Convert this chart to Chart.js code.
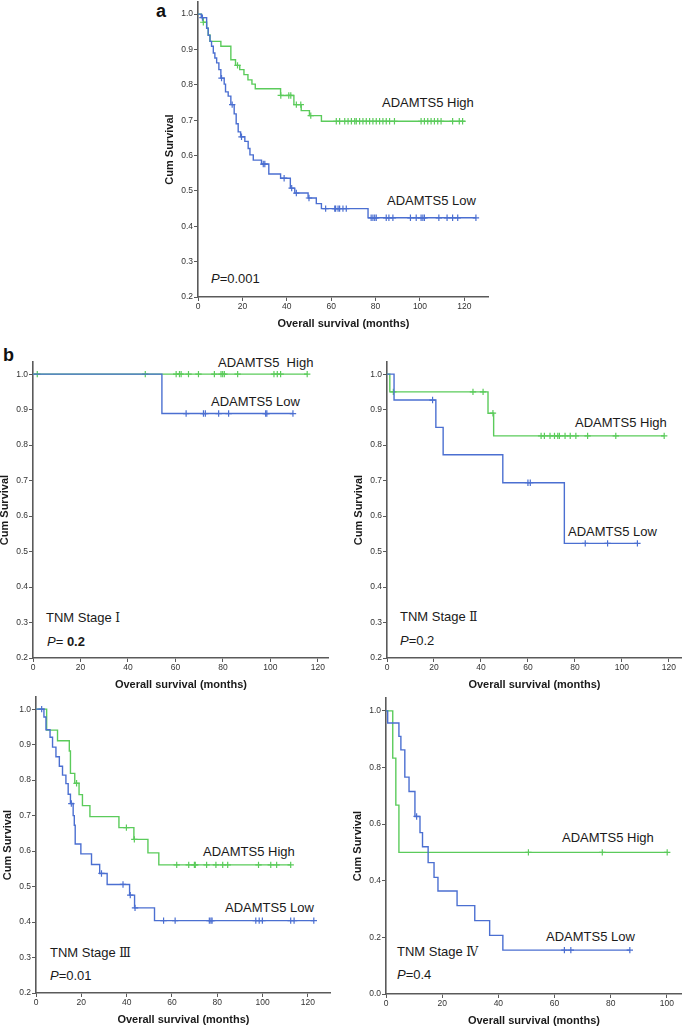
<!DOCTYPE html>
<html>
<head>
<meta charset="utf-8">
<script src="https://cdn.jsdelivr.net/npm/chart.js@4.4.0/dist/chart.umd.min.js"></script>
<style>
  body { margin: 0; width: 685px; height: 1028px; overflow: hidden; background: #fff; position: relative;
         font-family: "Liberation Sans", Arial, sans-serif; }
  canvas { position: absolute; }
  .lbl { position: absolute; font-size: 13px; line-height: 13px; color: #1a1a1a; white-space: pre; }
  .tag { position: absolute; font-size: 18px; line-height: 18px; font-weight: bold; color: #111; }
  .rn { font-family: "DejaVu Serif", "Liberation Serif", serif; font-size: 12px; }
</style>
</head>
<body>

<div class="tag" style="left:156px; top:2px;">a</div>
<div class="tag" style="left:3px; top:346px;">b</div>

<!-- panel a -->
<div class="lbl" style="left:382px; top:96px;">ADAMTS5 High</div>
<div class="lbl" style="left:387px; top:194px;">ADAMTS5 Low</div>
<div class="lbl" style="left:211px; top:272px;"><i>P</i>=0.001</div>

<!-- panel b, stage I -->
<div class="lbl" style="left:218px; top:356px;">ADAMTS5  High</div>
<div class="lbl" style="left:211px; top:395px;">ADAMTS5 Low</div>
<div class="lbl" style="left:46px; top:611px;">TNM Stage <span class="rn">Ⅰ</span></div>
<div class="lbl" style="left:47px; top:635px;"><i>P</i>= <b>0.2</b></div>

<!-- panel b, stage II -->
<div class="lbl" style="left:575px; top:416px;">ADAMTS5 High</div>
<div class="lbl" style="left:568px; top:525px;">ADAMTS5 Low</div>
<div class="lbl" style="left:400px; top:610px;">TNM Stage <span class="rn">Ⅱ</span></div>
<div class="lbl" style="left:400px; top:634px;"><i>P</i>=0.2</div>

<!-- panel b, stage III -->
<div class="lbl" style="left:203px; top:845px;">ADAMTS5 High</div>
<div class="lbl" style="left:225px; top:901px;">ADAMTS5 Low</div>
<div class="lbl" style="left:50px; top:946px;">TNM Stage <span class="rn">Ⅲ</span></div>
<div class="lbl" style="left:50px; top:969px;"><i>P</i>=0.01</div>

<!-- panel b, stage IV -->
<div class="lbl" style="left:562px; top:831px;">ADAMTS5 High</div>
<div class="lbl" style="left:546px; top:930px;">ADAMTS5 Low</div>
<div class="lbl" style="left:397px; top:945px;">TNM Stage <span class="rn">Ⅳ</span></div>
<div class="lbl" style="left:397px; top:968px;"><i>P</i>=0.4</div>

<script>
// ---- data (months / cumulative survival) ----
// every curve: event times with the survival value after that event, last entry = end of follow-up

// a: all patients
const aHighTime = [0, 1.6, 2.4, 3.9, 4.6, 5.4, 10.3, 14.8, 16.9, 18.8, 20.7, 22.5, 24.3, 25.8, 37.2, 43.2, 46.5, 50.2, 55.6, 120.4];
const aHighSurv = [1, 0.99, 0.977, 0.96, 0.941, 0.923, 0.909, 0.871, 0.855, 0.843, 0.829, 0.814, 0.802, 0.789, 0.77, 0.744, 0.727, 0.713, 0.697, 0.697];
const aHighCens = [2.4, 17.8, 37.3, 40.9, 41.8, 44.3, 46.3, 50.8, 62.3, 63.8, 66.1, 67.6, 69.1, 70.6, 71.3, 72.8, 74.3,
  75.8, 77.3, 78.8, 80.3, 81.8, 83.3, 84.8, 86.3, 88.5, 100.5, 102, 103.5, 105, 106.5, 108, 109.5, 114.7, 117.7, 119.2];

const aLowTime = [0, 1.5, 3.9, 4.6, 5.4, 6.1, 6.9, 7.6, 8.4, 9.4, 10.3, 11.8, 12.4, 13.6, 14.8, 16.3, 17.2, 18.1, 19.2,
  21.1, 22.6, 23.4, 24.9, 28.6, 31.9, 37.2, 41.6, 43.6, 49.6, 53.3, 55.6, 76.6, 125.2];
const aLowSurv = [1, 0.99, 0.96, 0.94, 0.923, 0.909, 0.89, 0.876, 0.862, 0.843, 0.819, 0.802, 0.78, 0.768, 0.744, 0.718,
  0.69, 0.667, 0.653, 0.64, 0.62, 0.602, 0.587, 0.576, 0.548, 0.536, 0.508, 0.494, 0.48, 0.464, 0.45, 0.424, 0.424];
const aLowCens = [2.0, 10.6, 15.4, 19.6, 29.4, 30.1, 38.8, 42.2, 44.3, 50.0, 57.5, 61.6, 62.0, 63.1, 63.8, 65.3, 66.8,
  78.0, 78.8, 79.6, 80.3, 84.8, 86.0, 87.8, 95.7, 98.3, 100.5, 101.3, 102.0, 108.5, 112.2, 114.7, 117.0, 125.2];

// b: TNM stage I
const s1HighTime = [0, 115.5];
const s1HighSurv = [1, 1];
const s1HighCens = [1.8, 47.3, 60.3, 61.7, 62.4, 65.5, 69.7, 76.4, 79.2, 79.9, 80.6, 86.2, 101.5, 102.9, 104.3, 115.5];
const s1LowTime = [0, 54.3, 109.5];
const s1LowSurv = [1, 0.889, 0.889];
const s1LowCens = [64.5, 71.8, 72.6, 78.2, 82.4, 98.0, 98.5, 109.5];

// b: TNM stage II
const s2HighTime = [0, 1.2, 43.0, 45.4, 118.0];
const s2HighSurv = [1, 0.95, 0.89, 0.826, 0.826];
const s2HighCens = [2.7, 36.6, 40.9, 45.1, 65.6, 67.0, 69.4, 71.3, 72.7, 73.4, 75.8, 78.0, 80.4, 85.4, 97.4, 118.0];
const s2LowTime = [0, 3.0, 20.8, 23.9, 49.3, 75.5, 106.6];
const s2LowSurv = [1, 0.927, 0.85, 0.773, 0.694, 0.523, 0.523];
const s2LowCens = [19.4, 60.0, 61.0, 84.4, 93.9, 106.6];

// b: TNM stage III
const s3HighTime = [0, 4.7, 9.5, 14.7, 15.2, 17.1, 19.0, 20.5, 23.8, 36.6, 43.2, 49.4, 54.2, 112.4];
const s3HighSurv = [1, 0.941, 0.911, 0.882, 0.819, 0.791, 0.759, 0.728, 0.697, 0.666, 0.633, 0.595, 0.561, 0.561];
const s3HighCens = [17.9, 39.9, 43.4, 62.1, 67.4, 69.9, 70.3, 75.3, 79.4, 82.4, 84.6, 98.2, 103.6, 106.2, 112.4];
const s3LowTime = [0, 3.5, 4.4, 6.2, 7.3, 8.8, 10.3, 11.7, 13.2, 14.2, 15.2, 16.4, 16.9, 17.3, 19.8, 24.5, 28.1, 31.4,
  41.3, 43.5, 52.3, 122.6];
const s3LowSurv = [1, 0.978, 0.942, 0.921, 0.893, 0.866, 0.839, 0.814, 0.79, 0.76, 0.734, 0.70, 0.673, 0.62, 0.592,
  0.562, 0.537, 0.506, 0.476, 0.44, 0.404, 0.404];
const s3LowCens = [2.5, 15.6, 28.9, 38.4, 41.6, 43.7, 56.3, 61.4, 76.5, 77.2, 77.7, 97.0, 98.5, 99.9, 112.4, 113.9, 122.6];

// b: TNM stage IV
const s4HighTime = [0, 2.4, 3.5, 4.6, 100.1];
const s4HighSurv = [1, 0.833, 0.667, 0.5, 0.5];
const s4HighCens = [50.7, 77.0, 100.1];
const s4LowTime = [0, 0.6, 4.6, 5.3, 6.7, 8.2, 10.3, 12.1, 13.0, 15.0, 17.1, 18.5, 25.3, 31.6, 36.9, 41.6, 86.8];
const s4LowSurv = [1, 0.957, 0.91, 0.862, 0.766, 0.715, 0.627, 0.57, 0.52, 0.464, 0.412, 0.364, 0.312, 0.259, 0.207,
  0.155, 0.155];
const s4LowCens = [10.9, 63.5, 65.8, 86.8];

// tick labels
const xTicksMain = [0, 20, 40, 60, 80, 100, 120];
const xTicksStage4 = [0, 20, 40, 60, 80, 100];
const yTicksMain = [0.2, 0.3, 0.4, 0.5, 0.6, 0.7, 0.8, 0.9, 1.0];
const yTicksStage4 = [0, 0.2, 0.4, 0.6, 0.8, 1.0];

const GREEN = "#5bcb5b";
const BLUE = "#4b6fd1";
const AXIS = "#5a5a5a";
const FONT = "'Liberation Sans', Arial, sans-serif";

// fixed room around the plot area of every canvas
const YW = 40, XH = 40, PT = 6, PR = 4;

function stepPoints(time, surv) {
  return time.map((t, i) => ({ x: t, y: surv[i] }));
}

// survival value of the curve at time t (for the censor crosses)
function survAt(time, surv, t) {
  let s = surv[0];
  for (let i = 0; i < time.length; i++) {
    if (time[i] <= t) s = surv[i];
  }
  return s;
}

function drawPanel(p) {
  const c = document.createElement("canvas");
  const w = p.R - p.L + YW + PR;
  const h = p.B - p.T + PT + XH;
  c.width = w;
  c.height = h;
  c.style.left = (p.L - YW) + "px";
  c.style.top = (p.T - PT) + "px";
  document.body.appendChild(c);

  const datasets = [];
  p.groups.forEach((g) => {
    datasets.push({
      data: stepPoints(g.time, g.surv),
      showLine: true,
      stepped: true,
      borderColor: g.color,
      borderWidth: 1.4,
      pointRadius: 0,
      fill: false,
    });
    datasets.push({
      data: g.cens.map((t) => ({ x: t, y: survAt(g.time, g.surv, t) })),
      showLine: false,
      pointStyle: "cross",
      pointRadius: 3.2,
      borderColor: g.color,
      borderWidth: 1.2,
    });
  });

  new Chart(c, {
    type: "scatter",
    data: { datasets: datasets },
    options: {
      responsive: false,
      animation: false,
      events: [],
      layout: { padding: { top: PT, right: PR, left: 0, bottom: 0 } },
      plugins: { legend: { display: false }, tooltip: { enabled: false } },
      scales: {
        x: {
          type: "linear",
          min: 0,
          max: p.xMax,
          afterBuildTicks: (s) => { s.ticks = p.xTicks.map((v) => ({ value: v })); },
          afterFit: (s) => { s.height = XH; },
          ticks: { font: { size: 8.5, family: FONT }, color: "#333", padding: 1, maxRotation: 0, autoSkip: false },
          grid: { drawOnChartArea: false, drawTicks: true, tickLength: 4, color: AXIS },
          border: { display: true, color: AXIS, width: 1.6 },
          title: {
            display: true,
            text: "Overall survival (months)",
            color: "#1a1a1a",
            font: { size: 11, weight: "bold", family: FONT },
            padding: { top: 0, bottom: 6 },
          },
        },
        y: {
          type: "linear",
          min: p.yMin,
          max: p.yMax,
          afterBuildTicks: (s) => { s.ticks = p.yTicks.map((v) => ({ value: v })); },
          afterFit: (s) => { s.width = YW; },
          ticks: {
            font: { size: 8.5, family: FONT },
            color: "#333",
            padding: 1,
            autoSkip: false,
            callback: (v) => Number(v).toFixed(1),
          },
          grid: { drawOnChartArea: false, drawTicks: true, tickLength: 4, color: AXIS },
          border: { display: true, color: AXIS, width: 1.6 },
          title: {
            display: true,
            text: "Cum Survival",
            color: "#1a1a1a",
            font: { size: 11, weight: "bold", family: FONT },
            padding: { top: 5, bottom: 0 },
          },
        },
      },
    },
  });
}

const panels = [
  { L: 198, R: 490, T: 2, B: 297, xMax: 131, yMin: 0.2, yMax: 1.034, xTicks: xTicksMain, yTicks: yTicksMain,
    groups: [
      { time: aLowTime, surv: aLowSurv, cens: aLowCens, color: BLUE },
      { time: aHighTime, surv: aHighSurv, cens: aHighCens, color: GREEN },
    ] },
  { L: 33, R: 330, T: 362, B: 658, xMax: 124.6, yMin: 0.2, yMax: 1.034, xTicks: xTicksMain, yTicks: yTicksMain,
    groups: [
      { time: s1LowTime, surv: s1LowSurv, cens: s1LowCens, color: BLUE },
      { time: s1HighTime, surv: s1HighSurv, cens: s1HighCens, color: GREEN },
    ] },
  { L: 387, R: 683, T: 362, B: 658, xMax: 125.5, yMin: 0.2, yMax: 1.034, xTicks: xTicksMain, yTicks: yTicksMain,
    groups: [
      { time: s2LowTime, surv: s2LowSurv, cens: s2LowCens, color: BLUE },
      { time: s2HighTime, surv: s2HighSurv, cens: s2HighCens, color: GREEN },
    ] },
  { L: 36, R: 332, T: 697, B: 993, xMax: 130.1, yMin: 0.2, yMax: 1.034, xTicks: xTicksMain, yTicks: yTicksMain,
    groups: [
      { time: s3LowTime, surv: s3LowSurv, cens: s3LowCens, color: BLUE },
      { time: s3HighTime, surv: s3HighSurv, cens: s3HighCens, color: GREEN },
    ] },
  { L: 386, R: 683, T: 698, B: 994, xMax: 105.3, yMin: 0, yMax: 1.045, xTicks: xTicksStage4, yTicks: yTicksStage4,
    groups: [
      { time: s4LowTime, surv: s4LowSurv, cens: s4LowCens, color: BLUE },
      { time: s4HighTime, surv: s4HighSurv, cens: s4HighCens, color: GREEN },
    ] },
];

panels.forEach(drawPanel);
</script>
</body>
</html>
